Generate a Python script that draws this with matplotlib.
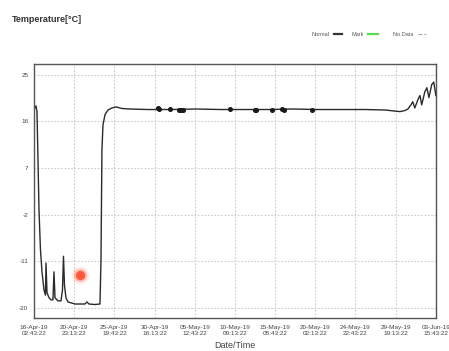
import matplotlib

matplotlib.use("Agg")
import matplotlib.pyplot as plt
from matplotlib.lines import Line2D
import pandas as pd

plt.rcParams["font.family"] = ["Liberation Sans", "DejaVu Sans"]

# logger start and readings (hours since start, deg C)
start = pd.Timestamp("2019-04-16 02:43:22")
hours = [2.9, 5.8, 8.7, 11.6, 14.5, 18.8, 23.2, 29.0, 33.3, 34.8, 37.7, 43.5,
         49.3, 55.0, 58.0, 60.9, 69.6, 78.2, 82.6, 85.5, 88.4, 92.7, 98.5,
         118.8, 147.8, 153.6, 159.4, 176.8, 191.3, 194.2, 197.0, 200.0, 205.8,
         214.5, 226.0, 237.6, 255.0, 278.0, 330.0, 400.0, 470.0, 540.0, 610.0,
         680.0, 750.0, 820.0, 890.0, 960.0, 1020.0, 1046.0, 1061.0, 1075.0,
         1084.0, 1093.0, 1098.0, 1104.0, 1113.0, 1119.0, 1124.0, 1133.0,
         1139.0, 1145.0, 1153.0, 1159.0, 1165.0]
temps = [18.6, 19.0, 17.9, 8.6, -1.1, -8.8, -13.0, -16.5, -17.5, -11.3, -17.0,
         -18.0, -18.4, -18.4, -13.0, -18.0, -18.6, -18.6, -16.5, -10.0, -15.6,
         -18.0, -18.8, -19.2, -19.2, -18.8, -19.2, -19.3, -19.2, -10.7, 10.5,
         15.3, 17.3, 18.2, 18.6, 18.8, 18.5, 18.4, 18.3, 18.3, 18.4, 18.3, 18.3,
         18.3, 18.4, 18.3, 18.3, 18.3, 18.2, 18.0, 17.9, 18.1, 18.4, 19.2, 19.8,
         18.6, 20.2, 21.0, 19.2, 21.7, 22.5, 20.6, 23.1, 23.6, 21.0]

# noisy clusters along the steady section
blob_hours = [359, 362, 394, 420, 426, 432, 568, 640, 643, 690, 719, 725, 806]
blob_temps = [18.5, 18.4, 18.4, 18.3, 18.3, 18.3, 18.4, 18.2, 18.2, 18.3,
              18.4, 18.3, 18.2]

mark_hours = [133.3]
mark_temps = [-13.6]

tick_labels = ["16-Apr-19\n02:43:22", "20-Apr-19\n23:13:22", "25-Apr-19\n19:43:22",
               "30-Apr-19\n16:13:22", "05-May-19\n12:43:22", "10-May-19\n09:13:22",
               "15-May-19\n05:43:22", "20-May-19\n02:13:22", "24-May-19\n22:43:22",
               "29-May-19\n19:13:22", "03-Jun-19\n15:43:22"]
y_ticks = [25, 16, 7, -2, -11, -20]

times = start + pd.to_timedelta(hours, unit="h")
blob_times = start + pd.to_timedelta(blob_hours, unit="h")
mark_times = start + pd.to_timedelta(mark_hours, unit="h")
tick_pos = pd.to_datetime(tick_labels, format="%d-%b-%y\n%H:%M:%S")

fig = plt.figure(figsize=(4.49, 3.51), dpi=100)
ax = fig.add_axes([0.0757, 0.094, 0.895, 0.724])

ax.plot(times, temps, color="#2a2a2a", lw=1.0)
ax.plot(blob_times, blob_temps, ls="none", marker="o", ms=2.6, color="#1a1a1a")

# glowing red mark
for s, a, c in [(170, 0.12, "#ff7050"), (90, 0.3, "#ff5030"),
                (45, 0.7, "#ff3010"), (14, 1.0, "#ff5a3a")]:
    ax.scatter(mark_times, mark_temps, s=s, color=c, alpha=a, lw=0, zorder=5)

ax.set_xlim(tick_pos[0], tick_pos[-1])
ax.set_ylim(-21.9, 27.1)
ax.set_xticks(tick_pos)
ax.set_xticklabels(tick_labels, fontsize=4.6, color="#444444")
ax.set_yticks(y_ticks)
ax.set_yticklabels([str(v) for v in y_ticks], fontsize=4.6, color="#444444")
ax.tick_params(axis="x", length=0, pad=5)
ax.tick_params(axis="y", length=0, pad=4)
ax.grid(True, color="#cccccc", ls=(0, (1.5, 1.5)), lw=0.8)
for sp in ax.spines.values():
    sp.set_color("#555555")
    sp.set_linewidth(1.0)
ax.set_xlabel("Date/Time", fontsize=6.5, color="#444444", labelpad=4)

fig.text(12 / 449, 1 - 20 / 351, "Temperature[°C]", fontsize=6.5,
         fontweight="bold", color="#333333", va="center")

# legend in the header
ly = 1 - 34 / 351
for tx, x0, x1, lx, col, lw, ls in [
    ("Normal", 312, 334, 342, "#333333", 1.6, "-"),
    ("Mark", 352, 368, 378, "#55dd55", 1.6, "-"),
    ("No Data", 393, 418, 426, "#aaaaaa", 0.8, "--"),
]:
    fig.text(x0 / 449, ly, tx, fontsize=4, color="#555555", va="center")
    fig.add_artist(Line2D([x1 / 449, lx / 449], [ly, ly], color=col, lw=lw,
                          ls=ls, transform=fig.transFigure))

fig.savefig("out.png", dpi=100)
